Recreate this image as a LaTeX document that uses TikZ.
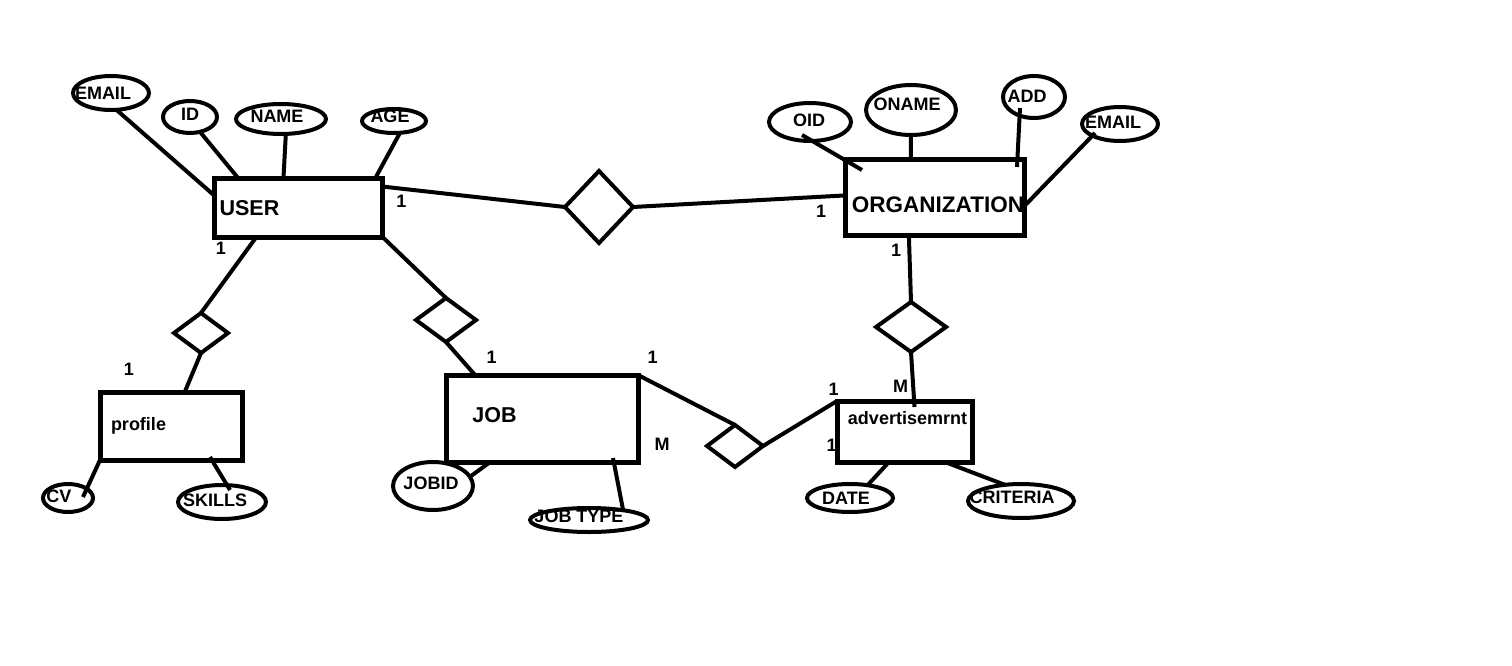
\documentclass[tikz,border=0pt]{standalone}
\usepackage{fontspec}
\setmainfont{Liberation Sans}
\usetikzlibrary{shapes.geometric,calc}
\begin{document}
\begin{tikzpicture}[x=1pt,y=-1pt,
  ent/.style={draw, rectangle, line width=5pt, inner sep=0pt, outer sep=0pt},
  attr/.style={draw, ellipse, line width=4pt, inner sep=0pt, outer sep=0pt},
  rel/.style={draw, diamond, line width=4pt, inner sep=0pt, outer sep=0pt},
  lnk/.style={line width=4pt},
  ttl/.style={font=\fontsize{21.5}{21.5}\selectfont\bfseries},
  big/.style={font=\fontsize{22.5}{22.5}\selectfont\bfseries},
  sml/.style={font=\fontsize{18}{18}\selectfont\bfseries},
  atxt/.style={font=\fontsize{18}{18}\selectfont\bfseries},
  card/.style={font=\fontsize{18}{18}\selectfont\bfseries}]
\fill[white] (0,0) rectangle (1512,666);
\useasboundingbox (0,0) rectangle (1512,666);

% entities
\node[ent, minimum width=168pt, minimum height=59pt, label={[ttl, shift={(-49,1)}]center:USER}] (user) at (298.5,207.5) {};
\node[ent, minimum width=179pt, minimum height=76pt, label={[big, shift={(3.5,8)}]center:ORGANIZATION}] (org) at (934.5,197) {};
\node[ent, minimum width=192pt, minimum height=87pt, label={[ttl, shift={(-47.5,-3.5)}]center:JOB}] (job) at (542,418.5) {};
\node[ent, minimum width=142pt, minimum height=68pt, label={[sml, shift={(-32.5,0)}]center:profile}] (prof) at (171,426) {};
\node[ent, minimum width=135pt, minimum height=61pt, label={[sml, shift={(3,-13.5)}]center:advertisemrnt}] (adv) at (904.5,431.5) {};

% relationships
\node[rel, minimum width=68pt, minimum height=72pt] (r1) at (599,207) {};
\node[rel, minimum width=70pt, minimum height=50pt] (r2) at (911,327) {};
\node[rel, minimum width=56pt, minimum height=42pt] (r3) at (735,446) {};
\node[rel, minimum width=60pt, minimum height=44pt] (r4) at (446,320) {};
\node[rel, minimum width=54pt, minimum height=40pt] (r5) at (201,333) {};

% attributes
\node[attr, minimum width=76pt, minimum height=34pt, label={[atxt, shift={(-8,0)}]center:EMAIL}] (uemail) at (111,93) {};
\node[attr, minimum width=54pt, minimum height=32pt, label={[atxt, shift={(0,-3)}]center:ID}] (uid) at (190,117) {};
\node[attr, minimum width=90pt, minimum height=30pt, label={[atxt, shift={(-4,-3)}]center:NAME}] (uname) at (281,119) {};
\node[attr, minimum width=64pt, minimum height=24pt, label={[atxt, shift={(-4,-5)}]center:AGE}] (uage) at (394,121) {};
\node[attr, minimum width=82pt, minimum height=38pt, label={[atxt, shift={(-1,-2)}]center:OID}] (oid) at (810,122) {};
\node[attr, minimum width=90pt, minimum height=50pt, label={[atxt, shift={(-4,-6)}]center:ONAME}] (oname) at (911,110) {};
\node[attr, minimum width=62pt, minimum height=42pt, label={[atxt, shift={(-7,-1)}]center:ADD}] (oadd) at (1034,97) {};
\node[attr, minimum width=76pt, minimum height=34pt, label={[atxt, shift={(-7,-2)}]center:EMAIL}] (oemail) at (1120,124) {};
\node[attr, minimum width=80pt, minimum height=48pt, label={[atxt, shift={(-2,-3)}]center:JOBID}] (jobid) at (433,486) {};
\node[attr, minimum width=118pt, minimum height=24pt, label={[atxt, shift={(-10,-4)}]center:JOB TYPE}] (jtype) at (589,520) {};
\node[attr, minimum width=86pt, minimum height=28pt, label={[atxt, shift={(-4,0)}]center:DATE}] (date) at (850,498) {};
\node[attr, minimum width=106pt, minimum height=34pt, label={[atxt, shift={(-9,-4)}]center:CRITERIA}] (crit) at (1021,501) {};
\node[attr, minimum width=50pt, minimum height=28pt, label={[atxt, shift={(-9,-2)}]center:CV}] (cv) at (68,498) {};
\node[attr, minimum width=88pt, minimum height=34pt, label={[atxt, shift={(-7,-2)}]center:SKILLS}] (skills) at (222,502) {};

% connectors
\draw[lnk] (uemail.-72) -- (user.172);
\draw[lnk] (uid.-56) -- (user.154);
\draw[lnk] (uname.-72) -- (user.117);
\draw[lnk] (uage.-63) -- (user.21);
\draw[lnk] (user.14) -- (r1.west);
\draw[lnk] (r1.east) -- (org.179);
\draw[lnk] ($(oid.center)+(-8,13)$) -- ($(org.north west)+(17,11)$);
\draw[lnk] (oname.south) -- (org.122);
\draw[lnk] ($(oadd.center)+(-14,11)$) -- ($(org.north east)+(-7,8)$);
\draw[lnk] ($(oemail.center)+(-25,9)$) -- (org.-6);
\draw[lnk] (org.236) -- (r2.north);
\draw[lnk] (r2.south) -- ($(adv.north)+(10,6)$);
\draw[lnk] (date.36) -- (adv.243);
\draw[lnk] (crit.135) -- (adv.-37);
\draw[lnk] (job.north east) -- (r3.north);
\draw[lnk] (r3.east) -- (adv.north west);
\draw[lnk] (user.south east) -- (r4.north);
\draw[lnk] (r4.south) -- (job.147);
\draw[lnk] (jobid.14) -- (job.220);
\draw[lnk] ($(job.south)+(71,-4)$) -- (jtype.16);
\draw[lnk] (user.215) -- (r5.north);
\draw[lnk] (r5.south) -- (prof.68);
\draw[lnk] ($(cv.center)+(15,-1)$) -- (prof.south west);
\draw[lnk] ($(skills.center)+(8,-12)$) -- ($(prof.south)+(39,-3)$);

% cardinalities
\node[card] (c1) at (401.5,201.5) {1};
\node[card] (c2) at (821,211.5) {1};
\node[card] (c3) at (221,248.5) {1};
\node[card] (c4) at (129,369.5) {1};
\node[card] (c5) at (491.5,357.5) {1};
\node[card] (c6) at (652.5,357.5) {1};
\node[card] (c7) at (662,444) {M};
\node[card] (c8) at (896,250) {1};
\node[card] (c9) at (833.5,389.5) {1};
\node[card] (c10) at (900.5,386.5) {M};
\node[card] (c11) at (831.5,445.5) {1};
\end{tikzpicture}
\end{document}
